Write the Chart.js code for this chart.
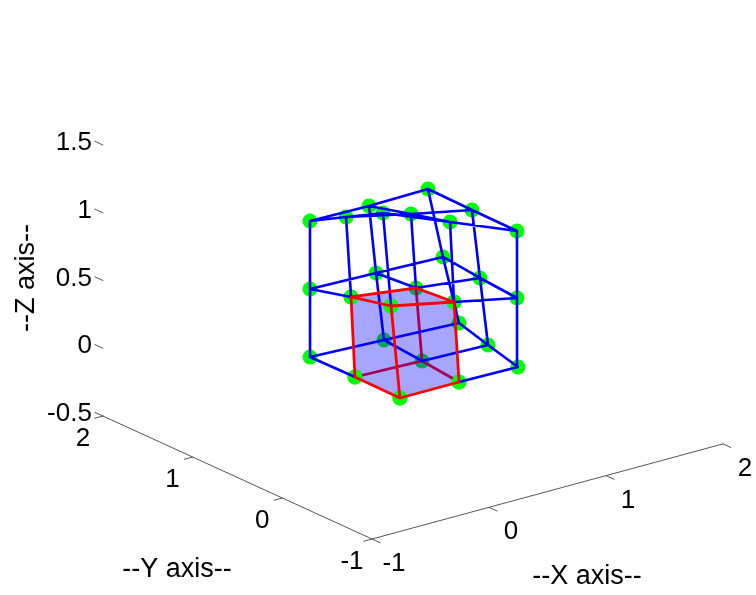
<!DOCTYPE html>
<html>
<head>
<meta charset="utf-8">
<style>
  html, body { margin: 0; padding: 0; background: #fff; }
  canvas { display: block; }
</style>
<script src="https://cdn.jsdelivr.net/npm/chart.js@4/dist/chart.umd.min.js"></script>
</head>
<body>
<canvas id="mesh" width="756" height="595"></canvas>
<script>
// node coordinates: x runs fastest, then y, then z
var nodeX = [0.010, 0.515, 1.007, 0.015, 0.563, 1.105, 0.009, 0.605, 1.207,
             0.247, 0.632, 1.017, 0.138, 0.592, 1.053, 0.012, 0.554, 1.101,
             0.500, 0.754, 1.008, 0.255, 0.639, 1.013, 0.014, 0.507, 1.023];
var nodeY = [0.006, 0.006, -0.009, 0.514, 0.481, 0.452, 1.007, 0.960, 0.909,
             0.414, 0.214, 0.014, 0.718, 0.586, 0.474, 1.011, 0.982, 0.949,
             0.834, 0.418, 0.003, 0.926, 0.703, 0.511, 1.014, 0.999, 1.015];
var nodeZ = [0, 0, 0, 0, 0, 0, 0, 0, 0,
             0.5, 0.5, 0.5, 0.5, 0.5, 0.5, 0.5, 0.5, 0.5,
             1, 1, 1, 1, 1, 1, 1, 1, 1];

var xTicks = [-1, 0, 1, 2];
var yTicks = [-1, 0, 1, 2];
var zTicks = [-0.5, 0, 0.5, 1, 1.5];
var xTickLabels = ['-1', '0', '1', '2'];
var yTickLabels = ['-1', '0', '1', '2'];
var zTickLabels = ['-0.5', '0', '0.5', '1', '1.5'];

// the shaded element: its outline, and which of its edges sit behind the shading
var hullNodes = [12, 13, 10, 1, 0, 3, 12];
var frontEdges = [[12, 9], [9, 10], [12, 13], [13, 10], [3, 0], [0, 1], [9, 0], [12, 3], [10, 1]];
var backEdges = [[3, 4], [4, 1], [4, 13]];
var frontNodes = [9, 0, 3, 1, 10, 12];

// fixed 3d view
function project(x, y, z) {
  return {
    x: 372 + 117 * (x + 1) - 89.7 * (y + 1),
    y: 539 - 31.7 * (x + 1) - 41 * (y + 1) - 135.5 * (z + 0.5)
  };
}

function nodePoint(n) {
  return project(nodeX[n], nodeY[n], nodeZ[n]);
}

function edgePoints(edges) {
  var pts = [];
  edges.forEach(function(e) {
    pts.push(nodePoint(e[0]), nodePoint(e[1]), {x: null, y: null});
  });
  return pts;
}

function inCube(n) {
  return n % 3 < 2 && Math.floor(n / 3) % 3 < 2 && n < 18;
}

// every grid line of the mesh except the edges the red element draws over
var meshEdges = [];
for (var n = 0; n < 27; n++) {
  var neighbours = [];
  if (n % 3 < 2) neighbours.push(n + 1);
  if (Math.floor(n / 3) % 3 < 2) neighbours.push(n + 3);
  if (n < 18) neighbours.push(n + 9);
  neighbours.forEach(function(m) {
    if (!(inCube(n) && inCube(m))) meshEdges.push([n, m]);
  });
}

var axisPts = [
  project(-1, 2, -0.5), project(-1, -1, -0.5), project(2, -1, -0.5), {x: null, y: null}
];
var tickPts = [];
xTicks.forEach(function(t) {
  tickPts.push(project(t, -1, -0.5), project(t, -1.09, -0.5), {x: null, y: null});
});
yTicks.forEach(function(t) {
  tickPts.push(project(-1, t, -0.5), project(-1.07, t, -0.5), {x: null, y: null});
});
zTicks.forEach(function(t) {
  tickPts.push(project(-1, 2, t), project(-1, 2.09, t), {x: null, y: null});
});

function lineSet(pts, color, width, order) {
  return {
    data: pts, showLine: true, order: order, pointRadius: 0,
    borderColor: color, borderWidth: width, tension: 0,
    borderCapStyle: 'round', spanGaps: false
  };
}

function nodeSet(nodes, order) {
  return {
    data: nodes.map(nodePoint), order: order, showLine: false,
    pointRadius: 7.5, pointBorderWidth: 0, pointBackgroundColor: '#00ff00'
  };
}

var allNodes = nodeX.map(function(v, i) { return i; });

// axis text is not on any chart scale here, so it is put on by hand
var axisText = {
  id: 'axisText',
  afterDraw: function(chart) {
    var ctx = chart.ctx;
    var sx = chart.scales.x, sy = chart.scales.y;
    function put(p, dx, dy, txt, align) {
      ctx.textAlign = align;
      ctx.fillText(txt, sx.getPixelForValue(p.x) + dx, sy.getPixelForValue(p.y) + dy);
    }
    ctx.save();
    ctx.fillStyle = '#000';
    ctx.textBaseline = 'middle';
    ctx.font = '26px "Liberation Sans"';
    xTicks.forEach(function(t, i) {
      put(project(t, -1, -0.5), 22, 25, xTickLabels[i], 'center');
    });
    yTicks.forEach(function(t, i) {
      put(project(-1, t, -0.5), -20, 23, yTickLabels[i], 'center');
    });
    zTicks.forEach(function(t, i) {
      put(project(-1, 2, t), -11, -2, zTickLabels[i], 'right');
    });
    ctx.font = '27px "Liberation Sans"';
    ctx.textAlign = 'center';
    ctx.fillText('--Y axis--', 177, 570);
    ctx.fillText('--X axis--', 587, 577);
    ctx.translate(27, 278);
    ctx.rotate(-Math.PI / 2);
    ctx.fillText('--Z axis--', 0, 0);
    ctx.restore();
  }
};

new Chart(document.getElementById('mesh').getContext('2d'), {
  type: 'scatter',
  data: {
    datasets: [
      lineSet(axisPts, '#555555', 1, 8),
      lineSet(tickPts, '#555555', 1, 8),
      nodeSet(allNodes, 7),
      lineSet(edgePoints(backEdges), '#ff0000', 2.8, 6),
      {
        data: hullNodes.map(nodePoint), showLine: true, order: 5, pointRadius: 0,
        borderWidth: 0, tension: 0, fill: 'shape', backgroundColor: 'rgba(0,0,255,0.35)'
      },
      nodeSet(frontNodes, 4),
      lineSet(edgePoints(meshEdges), '#0000ff', 2.6, 3),
      lineSet(edgePoints(frontEdges), '#ff0000', 2.8, 2)
    ]
  },
  options: {
    responsive: false,
    animation: false,
    layout: {padding: 0, autoPadding: false},
    scales: {
      x: {type: 'linear', display: false, min: 0, max: 756},
      y: {type: 'linear', display: false, min: 0, max: 595, reverse: true}
    },
    plugins: {
      legend: {display: false},
      tooltip: {enabled: false}
    }
  },
  plugins: [axisText]
});
</script>
</body>
</html>
